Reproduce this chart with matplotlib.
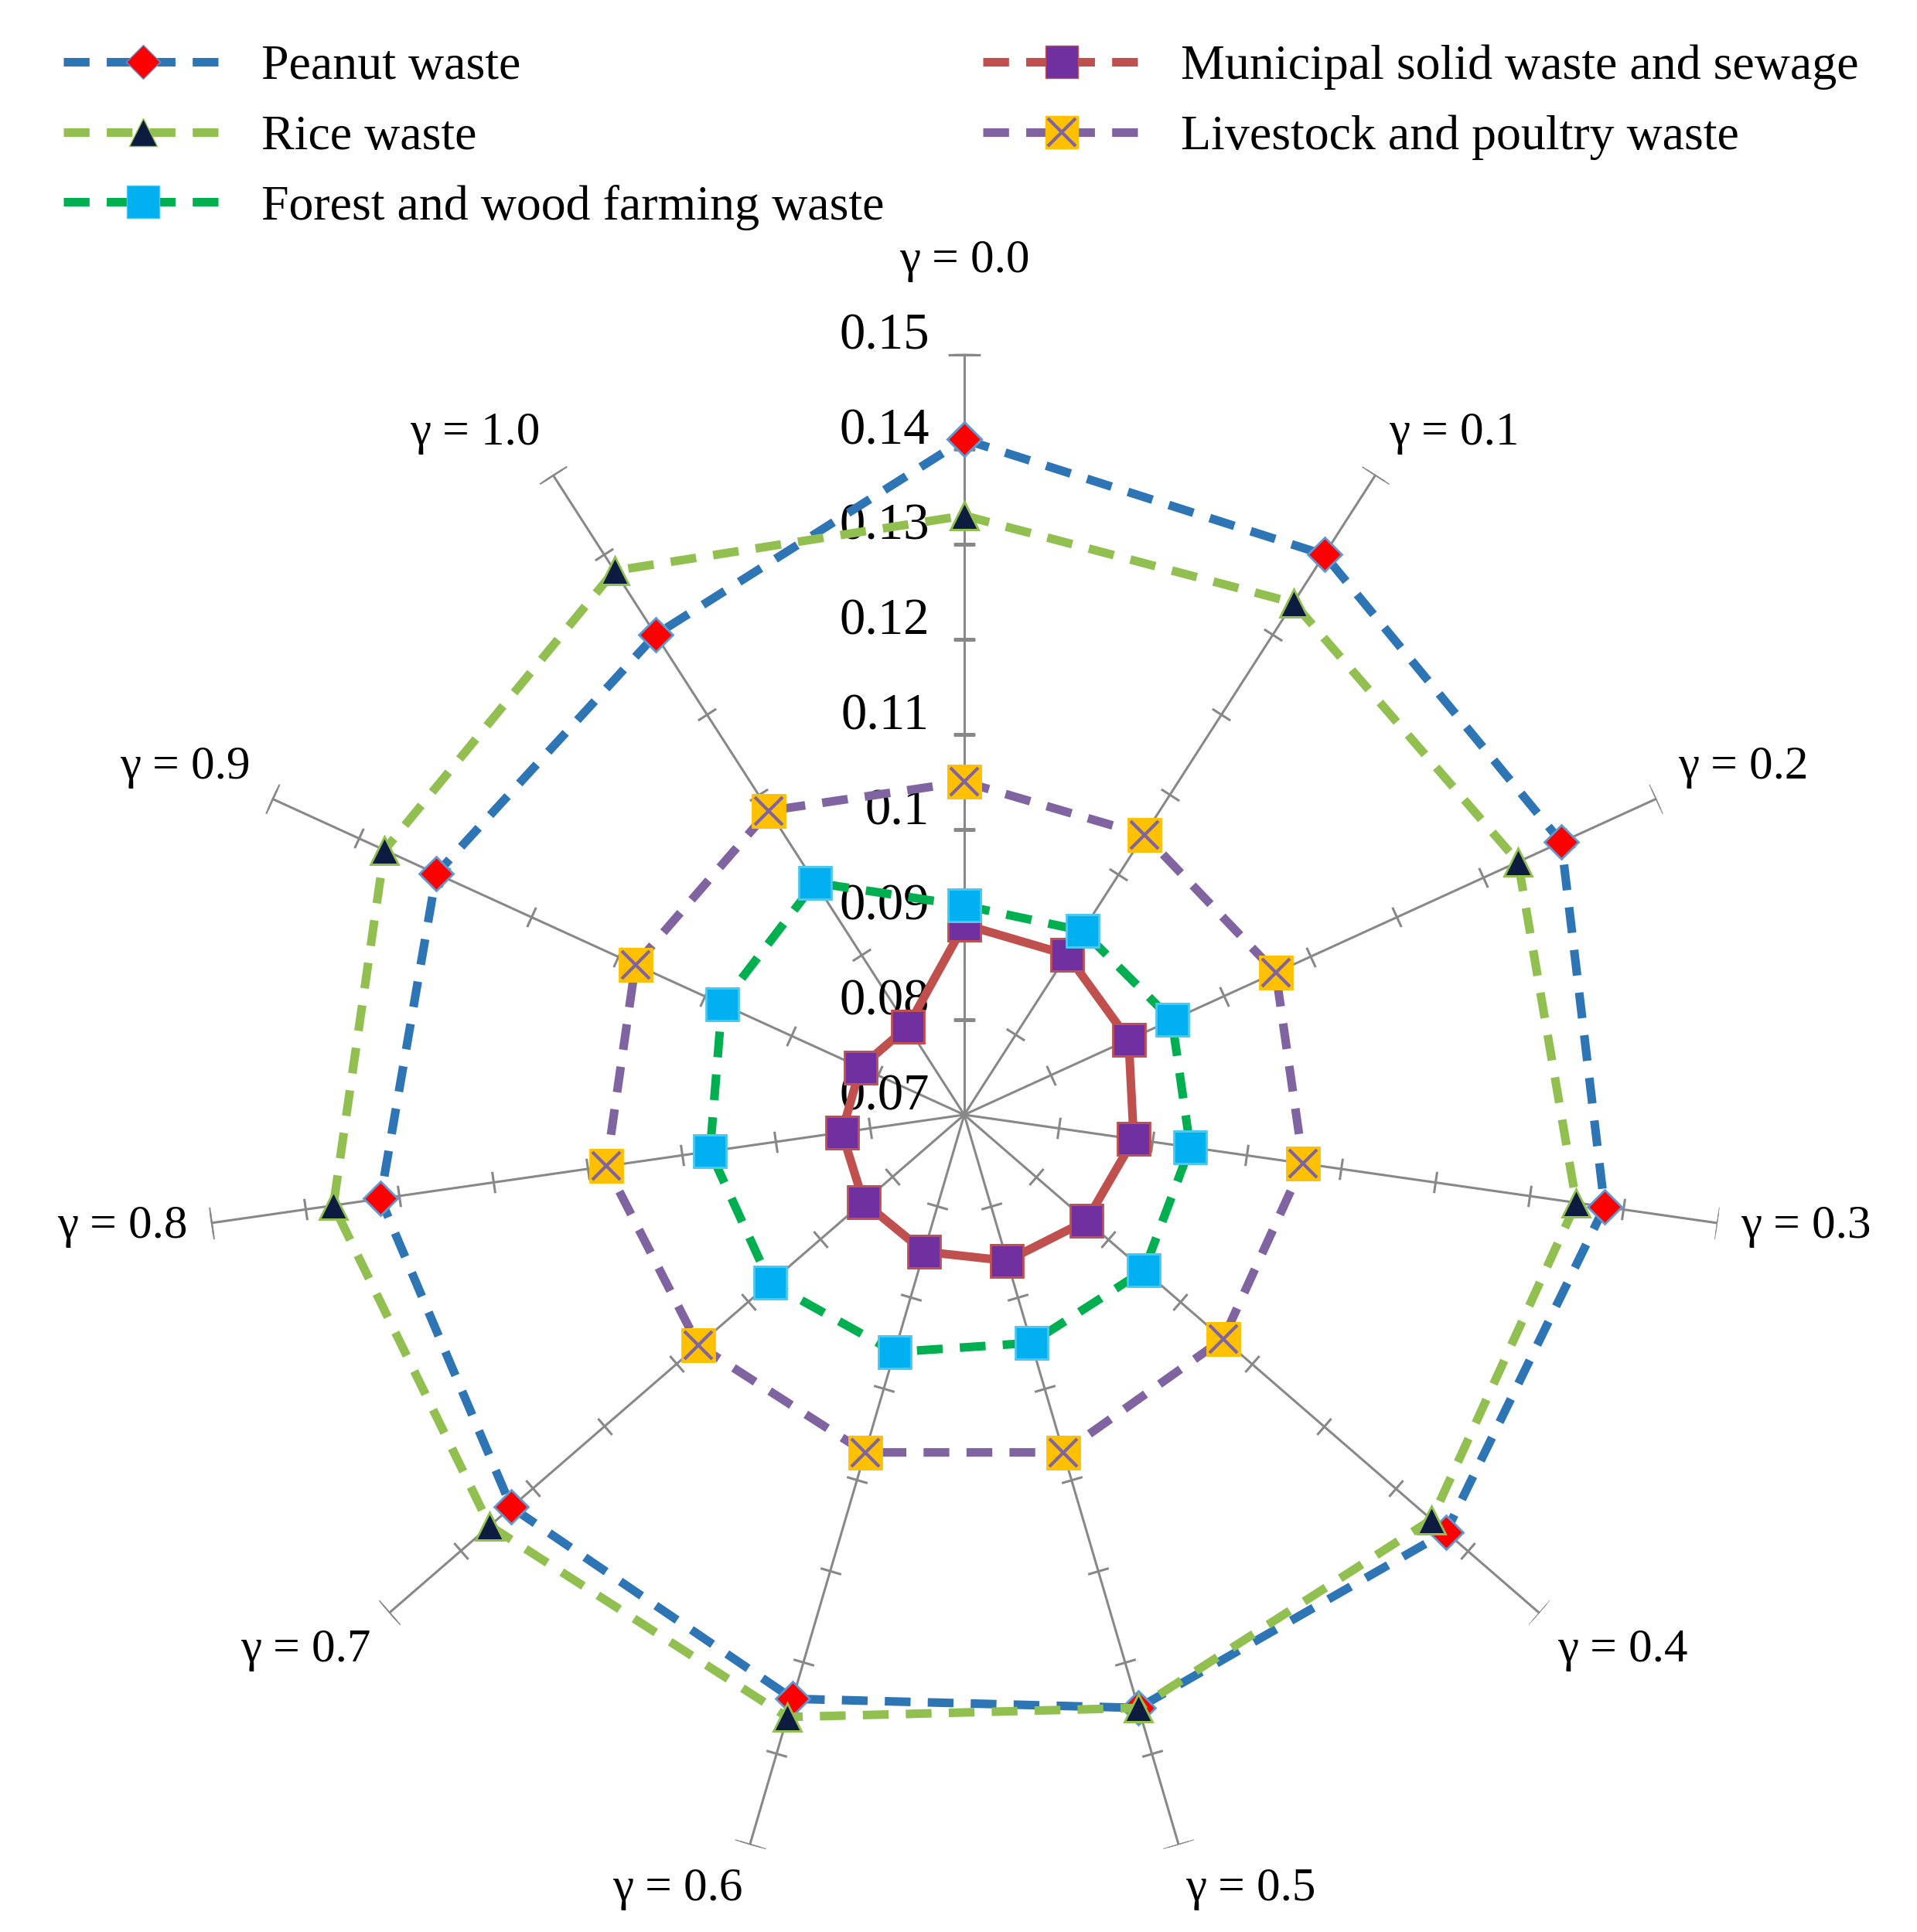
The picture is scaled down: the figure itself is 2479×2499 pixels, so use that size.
import numpy as np
import matplotlib
matplotlib.use("Agg")
import matplotlib.pyplot as plt
from matplotlib.lines import Line2D
from matplotlib.legend_handler import HandlerTuple
from matplotlib import transforms

plt.rcParams['font.family'] = ['Liberation Serif', 'DejaVu Serif']

gammas = ["0.0", "0.1", "0.2", "0.3", "0.4", "0.5", "0.6", "0.7", "0.8", "0.9", "1.0"]
peanut = [0.141, 0.140, 0.139, 0.138, 0.137, 0.135, 0.134, 0.133, 0.132, 0.131, 0.130]
rice = [0.133, 0.134, 0.134, 0.135, 0.135, 0.135, 0.136, 0.136, 0.137, 0.137, 0.138]
forest = [0.092, 0.093, 0.094, 0.094, 0.095, 0.095, 0.096, 0.097, 0.097, 0.098, 0.099]
municipal = [0.090, 0.090, 0.089, 0.088, 0.087, 0.086, 0.085, 0.084, 0.083, 0.082, 0.081]
livestock = [0.105, 0.105, 0.106, 0.106, 0.106, 0.107, 0.107, 0.107, 0.108, 0.108, 0.108]
rticks = [0.07, 0.08, 0.09, 0.10, 0.11, 0.12, 0.13, 0.14, 0.15]
rtick_labels = ["0.07", "0.08", "0.09", "0.1", "0.11", "0.12", "0.13", "0.14", "0.15"]

n = len(gammas)
theta = np.arange(n) * 2 * np.pi / n
tc = np.append(theta, theta[0])
def close(v): return list(v) + [v[0]]

fig = plt.figure(figsize=(24.79, 24.99), dpi=100)
ax = fig.add_axes([0.106, 0.029, 0.794, 0.788], projection='polar')
ax.set_theta_zero_location('N')
ax.set_theta_direction(-1)
ax.set_ylim(0.07, 0.15)
ax.grid(False)
ax.spines['polar'].set_visible(False)
ax.set_xticks([]); ax.set_yticks([])
ax.patch.set_alpha(0)

for i, t in enumerate(theta):
    ax.plot([t, t], [0.07, 0.15], color='#888888', lw=2.2, zorder=1)
    rot = 90 - np.degrees(t)
    ax.plot([t] * 8, rticks[1:], linestyle='none', marker=(2, 0, rot),
            markersize=20, markeredgewidth=2.2, color='#888888', zorder=1)
    ax.plot([t], [0.15], linestyle='none', marker=(2, 0, rot), markersize=30,
            markeredgewidth=2.2, color='#888888', zorder=1)
    s, c = np.sin(t), np.cos(t)
    ha = 'left' if s > 0.2 else ('right' if s < -0.2 else 'center')
    va = 'bottom' if c > 0.3 else ('top' if c < -0.3 else 'center')
    if i == 0:
        r = 0.1575
    else:
        r = 0.1525
    ax.text(t, r, "γ = " + gammas[i], ha=ha, va=va, fontsize=44, clip_on=False)

off = transforms.offset_copy(ax.transData, fig=fig, x=-45, y=-8, units='dots')
for v, lab in zip(rticks, rtick_labels):
    ax.text(0, v, lab, transform=off, ha='right', va='bottom', fontsize=48)

lw = 8
ms = 30
ax.plot(tc, close(peanut), ls=(0, (3, 2)), color='#2E75B6', lw=lw, zorder=3,
        marker='D', markersize=22, markerfacecolor='#FF0000', markeredgecolor='#5B9BD5', markeredgewidth=2)
ax.plot(tc, close(rice), ls=(0, (3, 2)), color='#92C050', lw=lw, zorder=3,
        marker='^', markersize=26, markerfacecolor='#0D1B40', markeredgecolor='#92C050', markeredgewidth=2)
ax.plot(tc, close(municipal), ls='-', color='#C0504D', lw=lw, zorder=3,
        marker='s', markersize=ms, markerfacecolor='#7030A0', markeredgecolor='#C0504D', markeredgewidth=2)
ax.plot(tc, close(forest), ls=(0, (3, 2)), color='#00B050', lw=lw, zorder=4,
        marker='s', markersize=ms, markerfacecolor='#00B0F0', markeredgecolor='#4BC8F0', markeredgewidth=2)
ax.plot(tc, close(livestock), ls=(0, (3, 2)), color='#8064A2', lw=lw, zorder=3,
        marker='s', markersize=ms, markerfacecolor='#FFC000', markeredgecolor='#FFC000', markeredgewidth=2)
ax.plot(theta, livestock, ls='none', marker='x', markersize=ms - 4, color='#8064A2',
        markeredgewidth=3, zorder=5)

h_pe = Line2D([], [], ls=(0, (3, 2)), color='#2E75B6', lw=lw, marker='D', markersize=22,
              markerfacecolor='#FF0000', markeredgecolor='#5B9BD5')
h_ri = Line2D([], [], ls=(0, (3, 2)), color='#92C050', lw=lw, marker='^', markersize=26,
              markerfacecolor='#0D1B40', markeredgecolor='#92C050')
h_fo = Line2D([], [], ls=(0, (3, 2)), color='#00B050', lw=lw, marker='s', markersize=ms,
              markerfacecolor='#00B0F0', markeredgecolor='#4BC8F0')
h_mu = Line2D([], [], ls=(0, (3, 2)), color='#C0504D', lw=lw, marker='s', markersize=ms,
              markerfacecolor='#7030A0', markeredgecolor='#C0504D')
h_li = Line2D([], [], ls=(0, (3, 2)), color='#8064A2', lw=lw, marker='s', markersize=ms,
              markerfacecolor='#FFC000', markeredgecolor='#FFC000')
h_lx = Line2D([], [], ls='none', marker='x', markersize=ms - 4, color='#8064A2', markeredgewidth=3)
fig.legend([h_pe, h_ri, h_fo, h_mu, (h_li, h_lx)],
           ["Peanut waste", "Rice waste", "Forest and wood farming waste",
            "Municipal solid waste and sewage", "Livestock and poultry waste"],
           handler_map={tuple: HandlerTuple(ndivide=1, pad=0)},
           loc='upper left', bbox_to_anchor=(0.01, 1.0), ncol=2, frameon=False,
           fontsize=46, handlelength=3.2, columnspacing=2.0, labelspacing=0.5)

fig.savefig("out.png", dpi=100)
